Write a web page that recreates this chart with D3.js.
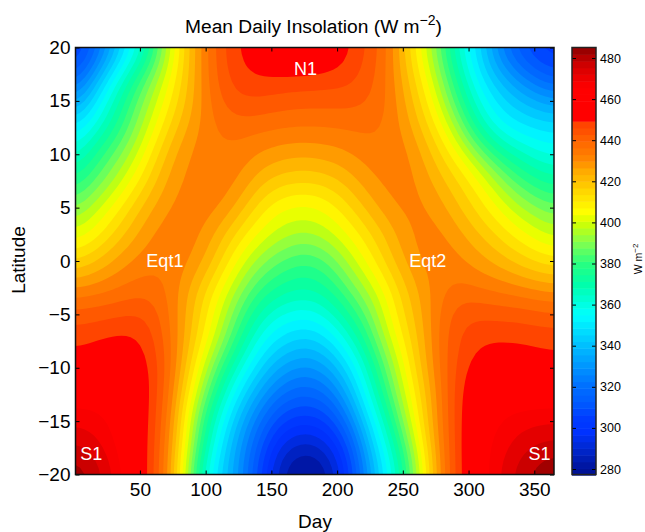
<!DOCTYPE html>
<html>
<head>
<meta charset="utf-8">
<title>Mean Daily Insolation</title>
<script src="https://cdn.jsdelivr.net/npm/d3@7"></script>
<style>
  html, body { margin: 0; padding: 0; background: #fff; }
  text { font-family: "Liberation Sans", Arial, sans-serif; fill: #000; }
</style>
</head>
<body>
<div id="chart"></div>
<script>
// days along the x direction, one column per entry of each row below
var days = [1,15,29,43,57,71,85,99,113,127,141,155,169,183,197,211,225,239,253,267,281,295,309,323,337,351,365];
var latitudes = [20,17.5,15,12.5,10,7.5,5,2.5,0,-2.5,-5,-7.5,-10,-12.5,-15,-17.5,-20];

// insolation, one row per latitude (W m-2)
var lat_p200 = [300,312,331,350,367,395,417,433,445,451,456,460,462,461,457,450,444,436,416,400,380,358,345,323,310,303,300];
var lat_p175 = [310,332,352,370,387,403,418,433,444,449,450.5,450.5,450,449.5,448.5,447.5,442,434,421,406,388,367,349,338,326,316,309];
var lat_p150 = [331,349,365,381,394,408,420,432,441,445,444.5,443,442,442,442,442,440,435.5,424,412,395,376,359,349,342,337,332];
var lat_p125 = [350,360,372,386,401,414,425,432,436,437,436,435.5,435,435,435,435.5,436,433.5,428,417,406,388,368,356,351,349,348];
var lat_p100 = [362,376,386,396,409,422,430,433,434,432.5,429.5,427.5,426,426.5,428,430,433,434,432,424,414,404,390,376,368,362,358];
var lat_p075 = [375,384,393,405,416,426,431,432.5,433,430,422.5,418,416.5,416.5,418.5,423.5,428.5,431.5,432.5,427,421,414,406,394,383,376,372];
var lat_p050 = [388,399,407,416,424,430,433,433.5,431,422,412,405.5,403,403.5,408,415,423,429,432.5,431,426,419,412,405,397,391,386];
var lat_p025 = [402,406,414,422,430,433,433,429,420,412,405,399,396,396,401,407,414,421,428.5,432.5,431,426,420,414,408,403,398];
var lat_000 = [414,420,426,431,433,434,432,426,415,403,392,385,380,380,387,398,408,419,427,432,433,431,427,423,418,414,411];
var lat_m025 = [430,431.5,433,436,437,435,426.5,416,405,392,381,375,372,372,378,388,398,408,420,428,434,436,434,433,431,429,427];
var lat_m050 = [443,444,445,446,445,436,425,412,398,382,369,360,357,357,365,376,388,405,417,427,438,444.5,445,444,444,443,442];
var lat_m075 = [448.5,449.5,451,451.5,448,438,424,409,392,374,357,349,344,344,351,364,380,399,412,425,439,446,449,450,449.5,449,448];
var lat_m100 = [454,456,458,456,451,440,420,398,378,360,346,335,329,329,337,350,368,388,408,424,439,448,454,455,455,454,453];
var lat_m125 = [461,461.5,461,459,451,438,414,390,366,348,333,321,316,316,323,340,362,381,403,418,438,450.5,459,460,460,460,460];
var lat_m150 = [469,467.5,464,458,451,436,407,376,355,336,320,307,302,302,308,326,350,370,396,418,437,451,460,465,468,469,470];
var lat_m175 = [476,473,466,458,451,433,405,372,348,329,312,294,287,287,295,311,342,361,385,413,436,451,463,467,472,476,477];
var lat_m200 = [486,480,472,460,450,432,398,358,343,327,305,286,277,276,285,305,332,354,376,408,435,451,461,470,478,483,487];

var insolation_rows = [lat_p200,lat_p175,lat_p150,lat_p125,lat_p100,lat_p075,lat_p050,lat_p025,lat_000,
                       lat_m025,lat_m050,lat_m075,lat_m100,lat_m125,lat_m150,lat_m175,lat_m200];

// colormap
var color_values = [277,283,290,298,305,312,320,340,355,370,380,390,400,405,415,425,432,440,447,449.9,450,466,472,478,485];
var color_stops = ["#001090","#0018a8","#0028d0","#0032ff","#003cff","#005aff","#006eff","#00beff","#00ffff","#00ffaa","#28ff80",
                   "#80ff50","#d2ff00","#ffff00","#ffd700","#ffaa00","#ff8000","#ff6400","#ff4600","#ff4000","#ff0000",
                   "#ff0000","#e60000","#c80000","#8c0000"];

var contour_levels = d3.range(275, 490, 5);
var colorbar_levels = d3.range(277, 482, 3.25);

var day_ticks = [50,100,150,200,250,300,350];
var lat_ticks = [-20,-15,-10,-5,0,5,10,15,20];
var colorbar_ticks = [280,300,320,340,360,380,400,420,440,460,480];

// white annotations inside the plot
var note_labels = ["N1","Eqt1","Eqt2","S1","S1"];
var note_days = [176,69,269,13,354];
var note_lats = [18,0,0,-18,-18];

var width = 645, height = 532;

var xScale = d3.scaleLinear().domain([1, 365]).range([75.5, 554]);
var yScale = d3.scaleLinear().domain([-20, 20]).range([474.5, 47.5]);
var barScale = d3.scaleLinear().domain([280, 480]).range([469, 58]);
var colorScale = d3.scaleLinear().domain(color_values).range(color_stops).clamp(true);

var svg = d3.select("#chart")
    .append("svg")
    .attr("width", width)
    .attr("height", height);

// Catmull-Rom between neighbours so the contour lines do not show the coarse grid
function smooth(p0, p1, p2, p3, t) {
    return 0.5 * (2 * p1 + (p2 - p0) * t + (2 * p0 - 5 * p1 + 4 * p2 - p3) * t * t + (3 * p1 - p0 - 3 * p2 + p3) * t * t * t);
}
function refineLine(line, n) {
    var out = [];
    for (var i = 0; i < line.length - 1; i++) {
        var p0 = line[Math.max(i - 1, 0)], p3 = line[Math.min(i + 2, line.length - 1)];
        for (var k = 0; k < n; k++) { out.push(smooth(p0, line[i], line[i + 1], p3, k / n)); }
    }
    out.push(line[line.length - 1]);
    return out;
}
var refine = 4;
var wide_rows = insolation_rows.map(function(r) { return refineLine(r, refine); });
var nx = wide_rows[0].length;
var columns = d3.range(nx).map(function(i) {
    return refineLine(wide_rows.map(function(r) { return r[i]; }), refine);
});
var ny = columns[0].length;
var field = [];
for (var j = 0; j < ny; j++) {
    for (var i = 0; i < nx; i++) { field.push(columns[i][j]); }
}
// takes the small wobbles of the hand read values out
d3.blur2({data: field, width: nx, height: ny}, 2);

var contours = d3.contours().size([nx, ny]).thresholds(contour_levels)(field);

// contour coordinates are in grid cells, value i sits at i + 0.5
var gridPath = d3.geoPath(d3.geoTransform({
    point: function(x, y) {
        var day = days[0] + (x - 0.5) / refine * (days[1] - days[0]);
        var lat = latitudes[0] + (y - 0.5) / refine * (latitudes[1] - latitudes[0]);
        this.stream.point(xScale(day), yScale(lat));
    }
}));

svg.append("clipPath")
    .attr("id", "plot-clip")
    .append("rect")
    .attr("x", xScale(1))
    .attr("y", yScale(20))
    .attr("width", xScale(365) - xScale(1))
    .attr("height", yScale(-20) - yScale(20));

svg.append("g")
    .attr("clip-path", "url(#plot-clip)")
    .selectAll("path")
    .data(contours)
    .enter()
    .append("path")
    .attr("d", gridPath)
    .attr("fill", function(d) { return colorScale(d.value + 2.5); });

// annotations
svg.append("g")
    .selectAll("text")
    .data(note_labels)
    .enter()
    .append("text")
    .attr("x", function(d, i) { return xScale(note_days[i]); })
    .attr("y", function(d, i) { return yScale(note_lats[i]); })
    .attr("dy", "0.36em")
    .attr("text-anchor", "middle")
    .attr("font-size", 18)
    .style("fill", "#fff")
    .text(function(d) { return d; });

// axes, ticks point inward on all four sides
function styleAxis(g, size) {
    g.select(".domain").remove();
    g.selectAll("line").attr("stroke", "#000").attr("stroke-width", 1);
    g.selectAll("text").attr("font-size", size).style("fill", "#000");
}

svg.append("g")
    .attr("transform", "translate(0," + yScale(-20) + ")")
    .call(d3.axisBottom(xScale).tickValues(day_ticks).tickFormat(d3.format("d")).tickSizeInner(-4).tickSizeOuter(0).tickPadding(8))
    .call(styleAxis, 19);
svg.append("g")
    .attr("transform", "translate(0," + yScale(20) + ")")
    .call(d3.axisTop(xScale).tickValues(day_ticks).tickFormat("").tickSizeInner(-4).tickSizeOuter(0))
    .call(styleAxis, 19);
svg.append("g")
    .attr("transform", "translate(" + xScale(1) + ",0)")
    .call(d3.axisLeft(yScale).tickValues(lat_ticks).tickSizeInner(-4).tickSizeOuter(0).tickPadding(5))
    .call(styleAxis, 19);
svg.append("g")
    .attr("transform", "translate(" + xScale(365) + ",0)")
    .call(d3.axisRight(yScale).tickValues(lat_ticks).tickFormat("").tickSizeInner(-4).tickSizeOuter(0))
    .call(styleAxis, 19);

svg.append("rect")
    .attr("x", xScale(1))
    .attr("y", yScale(20))
    .attr("width", xScale(365) - xScale(1))
    .attr("height", yScale(-20) - yScale(20))
    .attr("fill", "none")
    .attr("stroke", "#111")
    .attr("stroke-width", 1.5);

// colorbar
var barLeft = 572, barRight = 596;
svg.append("g")
    .selectAll("rect")
    .data(colorbar_levels)
    .enter()
    .append("rect")
    .attr("x", barLeft)
    .attr("width", barRight - barLeft)
    .attr("y", function(d) { return barScale(d + 3.25); })
    .attr("height", function(d) { return barScale(d) - barScale(d + 3.25) + 0.5; })
    .attr("fill", function(d) { return colorScale(d + 1.6); });

// ticks of the bar point inward, the labels sit on the right
svg.append("g")
    .attr("transform", "translate(" + barRight + ",0)")
    .call(d3.axisRight(barScale).tickValues(colorbar_ticks).tickSizeInner(-4).tickSizeOuter(0).tickPadding(4))
    .call(styleAxis, 12.5);
svg.append("g")
    .attr("transform", "translate(" + barLeft + ",0)")
    .call(d3.axisLeft(barScale).tickValues(colorbar_ticks).tickFormat("").tickSizeInner(-4).tickSizeOuter(0))
    .call(styleAxis, 12.5);

svg.append("rect")
    .attr("x", barLeft)
    .attr("y", yScale(20))
    .attr("width", barRight - barLeft)
    .attr("height", yScale(-20) - yScale(20))
    .attr("fill", "none")
    .attr("stroke", "#222")
    .attr("stroke-width", 1.5);

// titles
var title = svg.append("text")
    .attr("x", 313.5)
    .attr("y", 33)
    .attr("text-anchor", "middle")
    .attr("font-size", 19.2);
title.append("tspan").text("Mean Daily Insolation (W m");
title.append("tspan").attr("font-size", 14).attr("dy", -8).text("\u22122");
title.append("tspan").attr("dy", 8).text(")");

svg.append("text")
    .attr("x", 315)
    .attr("y", 528)
    .attr("text-anchor", "middle")
    .attr("font-size", 19)
    .text("Day");

svg.append("text")
    .attr("transform", "translate(25,260) rotate(-90)")
    .attr("text-anchor", "middle")
    .attr("font-size", 19)
    .text("Latitude");

var barTitle = svg.append("text")
    .attr("transform", "translate(642,259) rotate(-90)")
    .attr("text-anchor", "middle")
    .attr("font-size", 10.5);
barTitle.append("tspan").text("W m");
barTitle.append("tspan").attr("font-size", 8).attr("dy", -4).text("\u22122");
</script>
</body>
</html>
